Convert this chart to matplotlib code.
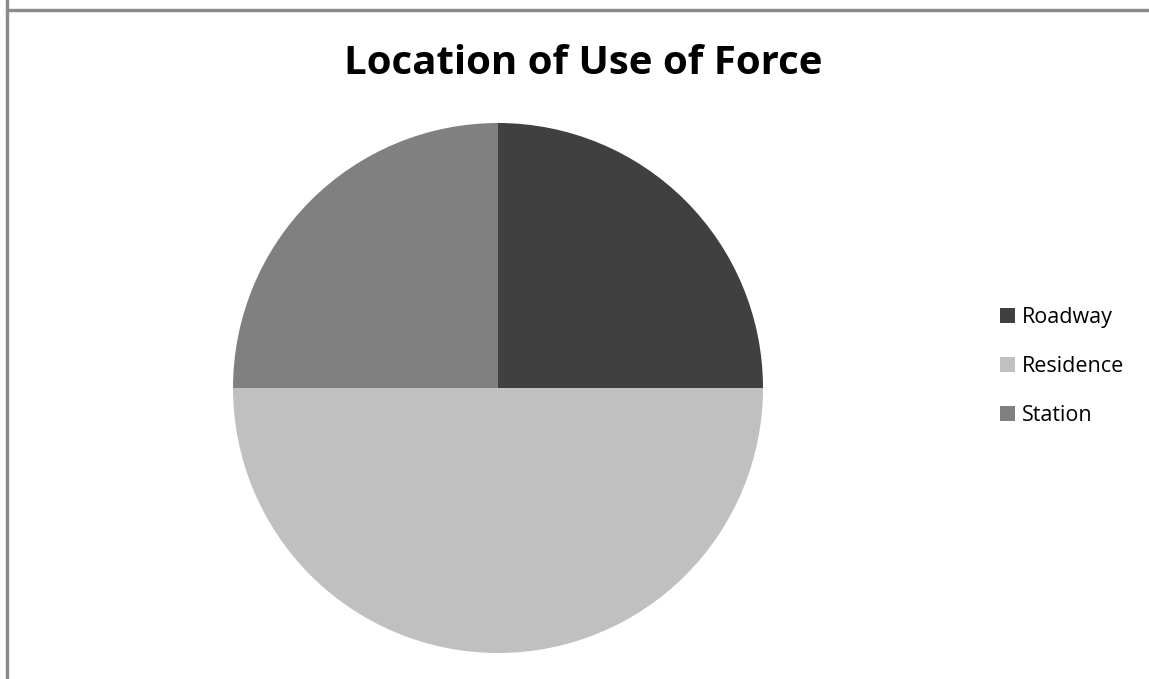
import matplotlib.pyplot as plt
from matplotlib.patches import Rectangle

plt.rcParams['font.family'] = ['Open Sans', 'DejaVu Sans']

locations = ['Roadway', 'Residence', 'Station']
counts = [1, 2, 1]
colors = ['#404040', '#c0c0c0', '#808080']

fig = plt.figure(figsize=(11.49, 6.79), dpi=100)

# grey frame along the top and left edges
fig.patches.append(Rectangle((6 / 1149, -0.1), 2 / 1149, 1.2,
                             transform=fig.transFigure, color='#8a8a8a', zorder=0))
fig.patches.append(Rectangle((6 / 1149, 1 - 11 / 679), 1.2, 2 / 679,
                             transform=fig.transFigure, color='#8a8a8a', zorder=0))

ax = fig.add_axes([233 / 1149, 26 / 679, 530 / 1149, 530 / 679])
wedges, _ = ax.pie(counts, colors=colors, startangle=90, counterclock=False,
                   radius=1.0)
ax.set_xlim(-1, 1)
ax.set_ylim(-1, 1)
ax.set_aspect('equal')
ax.axis('off')

fig.text(583 / 1149, 1 - 63 / 679, 'Location of Use of Force',
         ha='center', va='center', fontsize=29, fontweight='bold')

fig.legend(wedges, locations, loc='upper left',
           bbox_to_anchor=(989 / 1149, 1 - 296 / 679),
           frameon=False, fontsize=15.5, handlelength=0.7, handleheight=0.7,
           handletextpad=0.35, labelspacing=1.3, borderpad=0)

fig.savefig('out.png', dpi=100, facecolor='white')
